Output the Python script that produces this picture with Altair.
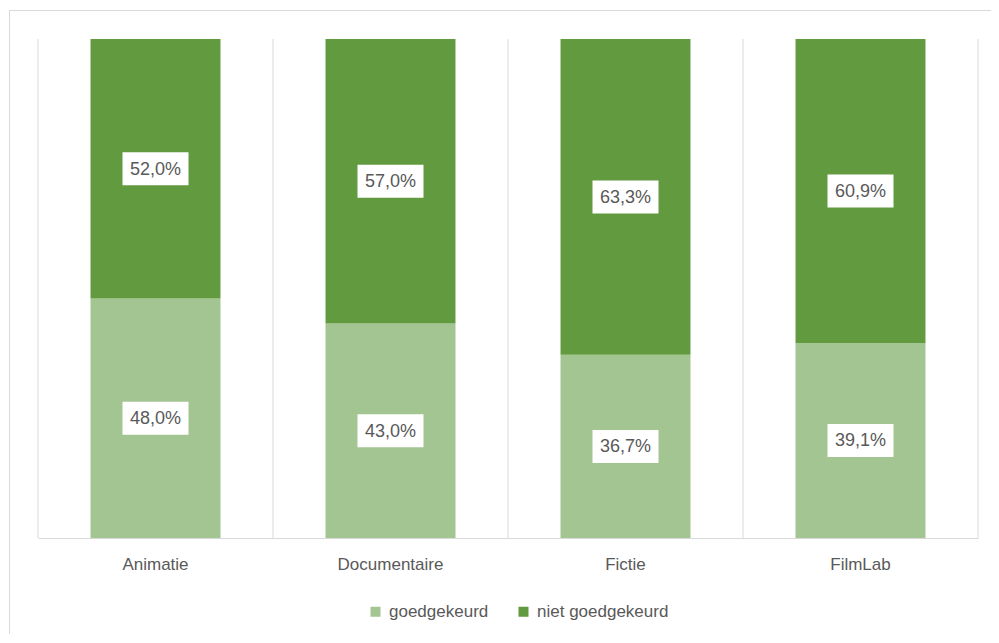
import altair as alt
import pandas as pd

categories = ["Animatie", "Documentaire", "Fictie", "FilmLab"]
goedgekeurd = [48.0, 43.0, 36.7, 39.1]
niet_goedgekeurd = [52.0, 57.0, 63.3, 60.9]
series = ["goedgekeurd", "niet goedgekeurd"]
colors = ["#A3C591", "#629B3F"]
boundaries = [0, 1, 2, 3, 4]

rows = []
for i, c in enumerate(categories):
    rows.append({"cat": c, "serie": series[0], "value": goedgekeurd[i], "order": 0})
    rows.append({"cat": c, "serie": series[1], "value": niet_goedgekeurd[i], "order": 1})
df = pd.DataFrame(rows)

W, H = 940, 499
FONT = "Liberation Sans, Arial, sans-serif"
GRAY = "#595959"
LINE = "#d9d9d9"

xaxis = alt.Axis(
    title=None, labelAngle=0, ticks=False, grid=False,
    domainColor=LINE, labelFont=FONT, labelFontSize=17,
    labelColor=GRAY, labelPadding=18,
)
xscale = alt.Scale(paddingInner=0.447, paddingOuter=0.2235)
xenc = alt.X("cat:N", sort=categories, scale=xscale, axis=xaxis)
yscale = alt.Scale(domain=[0, 100])

base = alt.Chart(df).transform_stack(
    stack="value", groupby=["cat"], as_=["y0", "y1"],
    sort=[alt.SortField("order", order="ascending")],
).transform_calculate(
    mid="(datum.y0 + datum.y1) / 2",
    label="replace(format(datum.value, '.1f'), '.', ',') + '%'",
)

bars = base.mark_bar().encode(
    x=xenc,
    y=alt.Y("y0:Q", scale=yscale, axis=None),
    y2="y1:Q",
    color=alt.Color(
        "serie:N",
        scale=alt.Scale(domain=series, range=colors),
        legend=alt.Legend(
            title=None, orient="none", legendX=329, legendY=564, direction="horizontal",
            symbolType="square", symbolSize=100, symbolStrokeWidth=0,
            labelFont=FONT, labelFontSize=17, labelColor=GRAY,
            columnPadding=26, labelOffset=5,
        ),
    ),
    order=alt.Order("order:Q"),
)

boxes = base.mark_point(
    shape="M-1,-0.5H1V0.5H-1Z", size=4356, filled=True, fill="white",
    opacity=1, strokeWidth=0,
).encode(x=xenc, y=alt.Y("mid:Q", scale=yscale, axis=None))

texts = base.mark_text(
    font=FONT, fontSize=18, color=GRAY, baseline="middle", align="center", dy=1
).encode(x=xenc, y=alt.Y("mid:Q", scale=yscale, axis=None), text="label:N")

main = alt.layer(bars, boxes, texts)

grid = alt.Chart(pd.DataFrame({"b": boundaries})).mark_rule(color=LINE, strokeWidth=1).encode(
    x=alt.X("b:Q", scale=alt.Scale(domain=[0, 4], nice=False, zero=False), axis=None),
    y=alt.value(0), y2=alt.value(H),
)

frame_df = pd.DataFrame({"k": [0]})
top_line = alt.Chart(frame_df).mark_rule(color=LINE, strokeWidth=1).encode(
    x=alt.value(-29), x2=alt.value(961), y=alt.value(-28.5)
)
left_line = alt.Chart(frame_df).mark_rule(color=LINE, strokeWidth=1).encode(
    x=alt.value(-28.5), y=alt.value(-29), y2=alt.value(600)
)

chart = alt.layer(grid, main, top_line, left_line).resolve_scale(x="independent").properties(
    width=W, height=H,
    autosize=alt.AutoSizeParams(type="none"),
    padding={"left": 30, "top": 31, "right": 13, "bottom": 96},
    background="white",
).configure_view(stroke=None)

chart.save("out.html", embed_options={"renderer": "svg", "actions": False})
